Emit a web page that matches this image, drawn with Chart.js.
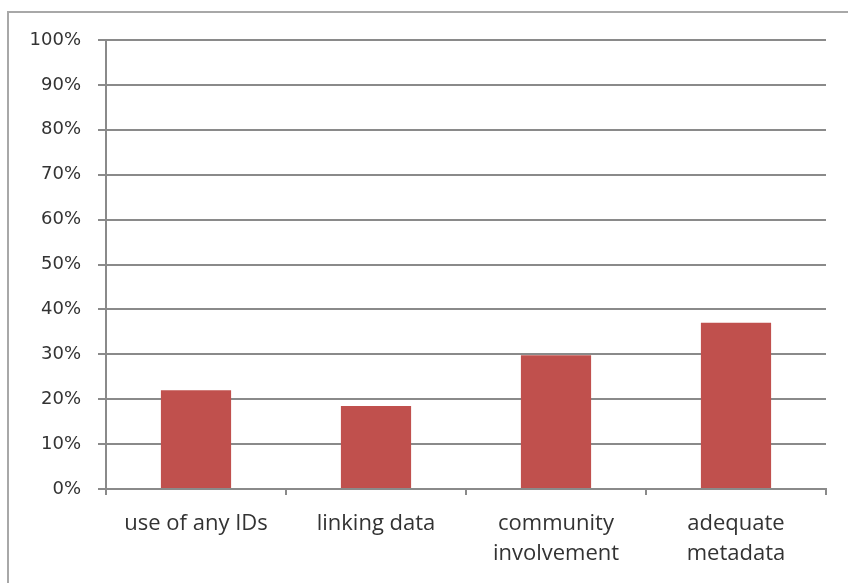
<!DOCTYPE html>
<html>
<head>
<meta charset="utf-8">
<script src="https://cdn.jsdelivr.net/npm/chart.js@4/dist/chart.umd.min.js"></script>
<style>
  html, body { margin: 0; padding: 0; background: #fff; }
  #wrap { position: relative; width: 848px; height: 583px; overflow: hidden; }
  #frame { position: absolute; left: 7px; top: 11px; width: 900px; height: 700px;
           border-left: 2px solid #a8a8a8; border-top: 2px solid #a8a8a8; }
  canvas { position: absolute; left: 0; top: 0; }
</style>
</head>
<body>
<div id="wrap">
  <div id="frame"></div>
  <canvas id="barChart" width="848" height="583"></canvas>
</div>
<script>
// categories and values (percent)
const categories = [
    ['use of any IDs'],
    ['linking data'],
    ['community', 'involvement'],
    ['adequate', 'metadata']
];
const shares = [22, 18.5, 29.8, 37];
const yTicks = [0, 10, 20, 30, 40, 50, 60, 70, 80, 90, 100];

const gridGray = '#8a8a8a';
const textColor = '#333333';

var ctx = document.getElementById('barChart');
var barChart = new Chart(ctx, {
    type: 'bar',
    data: {
        labels: categories,
        datasets: [{
            data: shares,
            backgroundColor: '#c0504d',
            borderWidth: 0,
            categoryPercentage: 1,
            barPercentage: 0.39
        }]
    },
    options: {
        responsive: false,
        animation: false,
        layout: {
            padding: { top: 40, right: 22, left: 0, bottom: 0 }
        },
        plugins: {
            legend: { display: false },
            tooltip: { enabled: false }
        },
        scales: {
            y: {
                min: 0,
                max: 100,
                afterFit: function (scale) { scale.width = 106; },
                afterBuildTicks: function (scale) {
                    scale.ticks = yTicks.map(v => ({ value: v }));
                },
                ticks: {
                    color: textColor,
                    font: { family: 'DejaVu Sans', size: 18 },
                    padding: 17,
                    callback: v => v + '%'
                },
                grid: {
                    color: gridGray,
                    lineWidth: 2,
                    tickLength: 8
                },
                border: { color: gridGray, width: 2 }
            },
            x: {
                afterFit: function (scale) { scale.height = 94; },
                ticks: {
                    color: textColor,
                    font: { family: 'Open Sans', size: 22, lineHeight: 1.4 },
                    padding: 13,
                    maxRotation: 0,
                    autoSkip: false
                },
                grid: {
                    offset: true,
                    drawOnChartArea: false,
                    color: gridGray,
                    lineWidth: 2,
                    tickLength: 6
                },
                border: { color: gridGray, width: 2 }
            }
        }
    }
});
</script>
</body>
</html>
